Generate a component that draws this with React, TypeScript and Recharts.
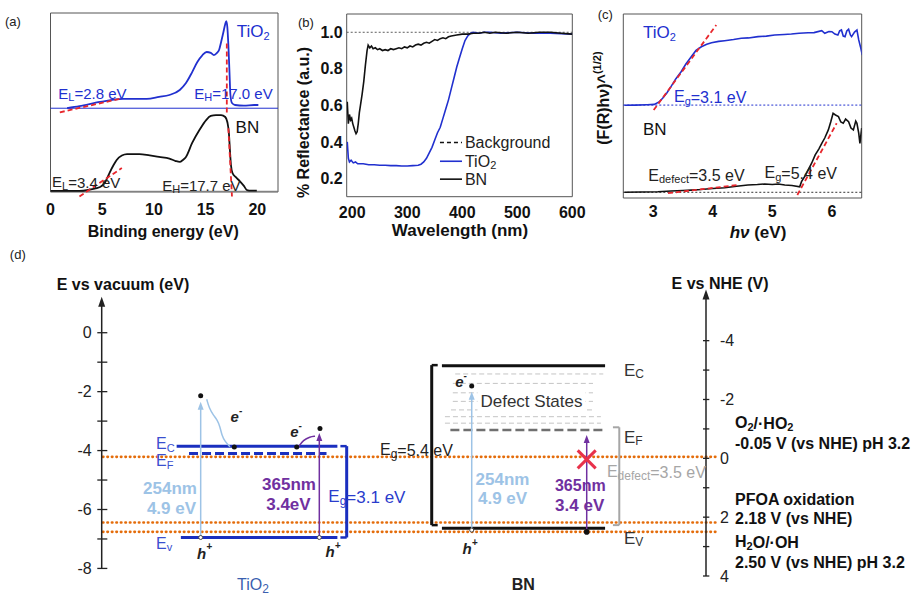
import React from "react";
import {
  LineChart,
  ComposedChart,
  Line,
  XAxis,
  YAxis,
  ReferenceLine,
  ReferenceDot,
  ReferenceArea,
} from "recharts";

const FONT = '"Liberation Sans", Arial, sans-serif';
const BLUE = "#2130cf";
const RED = "#e8262c";
const ORANGE = "#e46c0a";
const LIGHT_BLUE = "#9dc3e6";
const PURPLE = "#7030a0";

// ---------- (a) UPS spectra (binding energy, eV / intensity, a.u.) ----------
const upsTiO2BE = [1.6, 2.8, 4.8, 7.0, 9.3, 10.5, 11.5, 12.5, 13.1, 13.7, 14.2, 14.7, 15.1, 15.5, 15.8, 16.1, 16.3, 16.5, 16.7, 16.9, 17.0, 17.1, 17.2, 17.3, 17.4, 17.55, 17.85, 18.7, 19.7, 20.1];
const upsTiO2I = [46.9, 48.0, 50.3, 52.0, 52.0, 53.1, 54.2, 57.0, 60.9, 67.0, 72.6, 76.5, 78.2, 77.7, 76.5, 77.7, 79.3, 83.8, 88.8, 93.9, 95.5, 92.2, 82.1, 68.2, 54.2, 49.7, 48.6, 48.3, 48.6, 48.6];
const upsBNBE = [0, 2.8, 3.8, 4.8, 5.3, 5.7, 6.1, 6.4, 6.9, 7.4, 8.6, 9.6, 10.5, 11.5, 12.1, 12.5, 12.8, 13.1, 13.7, 14.4, 15.05, 15.5, 16.0, 16.5, 16.9, 17.1, 17.25, 17.35, 17.45, 17.6, 17.9, 18.3, 18.7, 19.0, 19.4, 19.95];
const upsBNI = [0.6, 0.6, 1.4, 2.8, 5.6, 10.6, 15.1, 17.9, 20.4, 21.2, 21.2, 20.4, 19.6, 18.7, 17.3, 16.8, 17.9, 19.6, 27.4, 34.6, 40.2, 42.5, 43.0, 43.0, 41.9, 39.1, 33.0, 23.5, 15.1, 10.6, 8.4, 6.1, 3.4, 1.1, 0.8, 0.8];
const upsTicks = [0, 5, 10, 15, 20];
const upsTiO2Base = 46.8;
// linear fits: [x1, y1, x2, y2]
const upsFits = [
  [0.9, 44.5, 6.9, 52.3],
  [17.05, 83.0, 17.05, 43.0],
  [2.8, -2.5, 6.9, 13.4],
  [17.2, 35.6, 17.55, -2.5],
];

// ---------- (b) diffuse reflectance ----------
const bnWl = [191, 193, 195, 197, 199, 201, 203, 205, 207, 209, 211, 213, 215, 218, 221, 224, 227, 229, 232, 235, 238, 242, 246, 250, 255, 260, 265, 270, 275, 280, 285, 290, 295, 300, 305, 310, 315, 320, 325, 330, 335, 340, 345, 350, 355, 360, 365, 370, 375, 380, 390, 400, 410, 420, 430, 440, 450, 460, 480, 500, 520, 540, 560, 580, 600];
const bnRefl = [0.62, 0.5, 0.55, 0.52, 0.53, 0.5, 0.48, 0.46, 0.445, 0.455, 0.5, 0.56, 0.6, 0.66, 0.73, 0.82, 0.9, 0.93, 0.915, 0.925, 0.91, 0.915, 0.905, 0.91, 0.9, 0.905, 0.9, 0.91, 0.905, 0.91, 0.915, 0.91, 0.92, 0.915, 0.925, 0.92, 0.93, 0.935, 0.93, 0.94, 0.945, 0.94, 0.95, 0.96, 0.955, 0.965, 0.97, 0.965, 0.975, 0.98, 0.985, 0.99, 0.99, 0.995, 0.995, 1.0, 0.995, 1.0, 0.995, 1.0, 0.995, 1.0, 1.0, 0.995, 0.99];
const tiWl = [191, 193, 195, 198, 202, 206, 210, 220, 230, 240, 250, 260, 270, 280, 290, 300, 310, 320, 325, 330, 335, 340, 345, 350, 355, 360, 365, 370, 375, 380, 385, 390, 395, 400, 405, 410, 415, 420, 430, 440, 450, 470, 500, 530, 560, 600];
const tiRefl = [0.4, 0.31, 0.29, 0.3, 0.285, 0.29, 0.28, 0.28, 0.275, 0.275, 0.272, 0.272, 0.27, 0.27, 0.268, 0.268, 0.27, 0.272, 0.278, 0.29, 0.31, 0.34, 0.37, 0.41, 0.45, 0.48, 0.53, 0.58, 0.63, 0.69, 0.75, 0.81, 0.86, 0.91, 0.955, 0.98, 0.995, 1.0, 0.995, 1.0, 1.0, 0.995, 1.0, 0.995, 0.995, 0.99];
const bgWl = [190, 600];
const bgRefl = [1.0, 1.0];
const reflXTicks = [200, 300, 400, 500, 600];
const reflYTicks = [0.2, 0.4, 0.6, 0.8, 1.0];

// ---------- (c) Tauc plots ----------
const taucTiE = [2.52, 2.7, 2.9, 3.02, 3.1, 3.16, 3.23, 3.3, 3.38, 3.47, 3.55, 3.64, 3.72, 3.81, 3.9, 3.98, 4.1, 4.2, 4.35, 4.48, 4.6, 4.76, 4.9, 5.04, 5.2, 5.32, 5.45, 5.6, 5.7, 5.83, 5.88, 5.95, 6.0, 6.05, 6.1, 6.13, 6.16, 6.19, 6.22, 6.25, 6.28, 6.31, 6.33, 6.38, 6.42, 6.45, 6.48, 6.51];
const taucTiF = [0.504, 0.505, 0.507, 0.509, 0.522, 0.542, 0.571, 0.605, 0.647, 0.686, 0.728, 0.768, 0.802, 0.822, 0.835, 0.844, 0.851, 0.855, 0.861, 0.868, 0.87, 0.877, 0.88, 0.886, 0.889, 0.891, 0.895, 0.898, 0.899, 0.909, 0.895, 0.905, 0.904, 0.891, 0.886, 0.908, 0.913, 0.88, 0.877, 0.908, 0.917, 0.886, 0.877, 0.902, 0.913, 0.859, 0.821, 0.777];
const taucBNE = [2.52, 2.8, 3.08, 3.3, 3.5, 3.64, 3.8, 4.0, 4.2, 4.4, 4.59, 4.75, 4.87, 5.0, 5.1, 5.21, 5.33, 5.46, 5.49, 5.55, 5.6, 5.66, 5.72, 5.78, 5.83, 5.88, 5.94, 5.98, 6.02, 6.06, 6.11, 6.15, 6.19, 6.23, 6.28, 6.32, 6.36, 6.4, 6.42, 6.45, 6.47, 6.5];
const taucBNF = [0.031, 0.033, 0.034, 0.038, 0.041, 0.043, 0.046, 0.052, 0.056, 0.064, 0.071, 0.073, 0.076, 0.073, 0.076, 0.071, 0.068, 0.061, 0.089, 0.12, 0.152, 0.189, 0.234, 0.266, 0.297, 0.326, 0.37, 0.413, 0.46, 0.451, 0.442, 0.413, 0.406, 0.429, 0.415, 0.38, 0.37, 0.418, 0.406, 0.353, 0.297, 0.38];
const taucTicks = [3, 4, 5, 6];
const taucTiBase = 0.505;
const taucBNBase = 0.031;
const taucFits = [
  [3.01, 0.478, 4.06, 0.94],
  [3.25, 0.026, 4.43, 0.071],
  [5.42, 0.016, 6.08, 0.406],
];

// ---------- (d) band diagram (energies in eV vs vacuum; redox in V vs NHE) ----------
const vacLabelTicks = [0, -2, -4, -6, -8];
const vacAllTicks = [0, -1, -2, -3, -4, -5, -6, -7, -8];
const nheLabelTicks = [-4, -2, 0, 2, 4];
const nheAllTicks = [-4, -3, -2, -1, 0, 1, 2, 3, 4];
const redoxNHE = [-0.05, 2.18, 2.5];
// TiO2: Ec, Ef, Ev
const tioLevels = [-3.85, -4.1, -6.95];
const tioLevelFrom = [12.4, 14.45, 13.1];
const tioLevelTo = [39.0, 37.2, 39.0];
// BN: Ec, Ef, Ev
const bnLevels = [-1.12, -3.3, -6.64];
const bnLevelFrom = [56.3, 57.7, 56.3];
const bnLevelTo = [83.3, 83.3, 83.3];
const defectLevels = [-1.4, -1.72, -2.04, -2.33, -2.62, -2.85, -3.07];
const defectFrom = [58.5, 58.1, 58.1, 58.1, 57.8, 56.8, 56.8];
const defectTo = [83.0, 81.3, 81.3, 81.3, 81.3, 82.6, 82.6];
// excitation arrows: [x, from E, to E, 365nm?]
const excitations = [
  [16.38, -6.95, -2.34, 0],
  [36.01, -6.95, -3.4, 1],
  [61.23, -6.7, -2.0, 0],
  [80.26, -6.76, -3.47, 1],
];
const relaxX = [17.38, 17.81, 18.48, 19.14, 19.58, 19.86, 20.41, 21.24];
const relaxY = [-2.26, -2.57, -2.8, -2.96, -3.19, -3.47, -3.7, -3.87];
const hopX = [32.53, 33.36, 34.47, 35.3];
const hopY = [-3.88, -3.64, -3.53, -3.51];

const pts = (xs: number[], ys: number[]) => xs.map((x, i) => ({ x, y: ys[i] }));

type NoteOpts = {
  size?: number;
  bold?: boolean;
  italic?: boolean;
  color?: string;
  anchor?: "start" | "middle" | "end";
  rotate?: number;
  bg?: number;
};

function note(key: string, x: number, y: number, content: React.ReactNode, o: NoteOpts = {}, yAxisId: string | number = 0) {
  const shape = (p: any) => {
    const t = (
      <text
        x={p.cx}
        y={p.cy}
        fontFamily={FONT}
        fontSize={o.size ?? 15}
        fontWeight={o.bold ? 700 : 400}
        fontStyle={o.italic ? "italic" : "normal"}
        fill={o.color ?? "#222"}
        textAnchor={o.anchor ?? "start"}
        dominantBaseline="central"
        transform={o.rotate ? `rotate(${o.rotate} ${p.cx} ${p.cy})` : undefined}
      >
        {content}
      </text>
    );
    if (!o.bg) return t;
    return (
      <g>
        <rect x={p.cx - o.bg / 2} y={p.cy - 10} width={o.bg} height={20} fill="#fff" />
        {t}
      </g>
    );
  };
  return <ReferenceDot key={key} x={x} y={y} r={0} yAxisId={yAxisId} ifOverflow="visible" shape={shape} />;
}

function seg(key: string, x1: number, y1: number, x2: number, y2: number, stroke: string, width: number, dash?: string, yAxisId: string | number = 0, cap?: "round" | "butt") {
  return (
    <ReferenceLine
      key={key}
      yAxisId={yAxisId}
      segment={[{ x: x1, y: y1 }, { x: x2, y: y2 }]}
      stroke={stroke}
      strokeWidth={width}
      strokeDasharray={dash}
      strokeLinecap={cap}
      ifOverflow="visible"
    />
  );
}

function dot(key: string, x: number, y: number, r: number, fill: string, stroke = "none", yAxisId: string | number = "vac") {
  return <ReferenceDot key={key} x={x} y={y} r={r} fill={fill} stroke={stroke} strokeWidth={1} yAxisId={yAxisId} ifOverflow="visible" />;
}

function arrowHead(key: string, x: number, y: number, w: number, h: number, color: string, yAxisId: string | number = "vac") {
  const shape = (p: any) => (
    <path d={`M${p.cx},${p.cy} L${p.cx - w / 2},${p.cy + h} L${p.cx + w / 2},${p.cy + h} Z`} fill={color} />
  );
  return <ReferenceDot key={key} x={x} y={y} r={0} yAxisId={yAxisId} ifOverflow="visible" shape={shape} />;
}

const sb = (s: string, size = 11) => (
  <tspan dy={4} fontSize={size}>
    {s}
  </tspan>
);
const back = (s: string) => <tspan dy={-4}>{s}</tspan>;
const sup = (s: string, size = 10) => (
  <tspan dy={-7} fontSize={size}>
    {s}
  </tspan>
);

const tickBold = { fontSize: 16, fontWeight: 700, fill: "#111", fontFamily: FONT };

function PanelA() {
  return (
    <div style={{ position: "absolute", left: 0, top: 0 }}>
      <LineChart width={290} height={250} margin={{ top: 13, right: 12, bottom: 0, left: 50.5 }}>
        <XAxis type="number" dataKey="x" domain={[0, 22]} ticks={upsTicks} allowDataOverflow axisLine={false} tickLine={false} tickSize={0} tickMargin={12} height={58} tick={tickBold} />
        <YAxis hide domain={[0, 100]} allowDataOverflow />
        <ReferenceArea x1={0} x2={22} y1={0} y2={100} fill="none" stroke="#555" strokeWidth={1} ifOverflow="visible" />
        <ReferenceLine y={upsTiO2Base} stroke={BLUE} strokeWidth={1} />
        <ReferenceLine y={0.4} stroke="#777" strokeWidth={1} />
        <Line data={pts(upsTiO2BE, upsTiO2I)} dataKey="y" type="monotone" stroke={BLUE} strokeWidth={1.8} dot={false} isAnimationActive={false} />
        <Line data={pts(upsBNBE, upsBNI)} dataKey="y" type="monotone" stroke="#111" strokeWidth={1.8} dot={false} isAnimationActive={false} />
        {upsFits.map((f, i) => seg(`fa${i}`, f[0], f[1], f[2], f[3], RED, 1.8, "5 3"))}
        {note("ta", 18.0, 89.4, <>TiO{sb("2")}</>, { size: 17, color: BLUE })}
        {note("el1", 0.75, 55.3, <>E{sb("L")}{back("=2.8 eV")}</>, { size: 15, color: BLUE })}
        {note("eh1", 13.9, 55.3, <>E{sb("H")}{back("=17.0 eV")}</>, { size: 15, color: BLUE })}
        {note("bn", 17.9, 36.3, "BN", { size: 17, color: "#111" })}
        {note("el2", 0.15, 5.8, <>E{sb("L")}{back("=3.4 eV")}</>, { size: 15, color: "#222" })}
        {note("eh2", 10.8, 3.9, <>E{sb("H")}{back("=17.7 eV")}</>, { size: 15, color: "#222" })}
        {note("lab", -4.4, 95, "(a)", { size: 13 })}
        {note("xt", 10.9, -22.3, "Binding energy (eV)", { size: 16, bold: true, anchor: "middle", color: "#111" })}
      </LineChart>
    </div>
  );
}

function PanelB() {
  return (
    <div style={{ position: "absolute", left: 280, top: 0 }}>
      <LineChart width={310} height={250} margin={{ top: 14, right: 17.7, bottom: 0, left: 0 }}>
        <XAxis type="number" dataKey="x" domain={[190, 600]} ticks={reflXTicks} allowDataOverflow axisLine={false} tickLine={false} tickSize={0} tickMargin={10} height={53.3} tick={tickBold} />
        <YAxis width={66.7} domain={[0.1, 1.1]} ticks={reflYTicks} allowDataOverflow axisLine={false} tickLine={false} tickSize={0} tickMargin={4} tick={tickBold} tickFormatter={(v: number) => v.toFixed(1)} />
        <ReferenceArea x1={190} x2={600} y1={0.1} y2={1.1} fill="none" stroke="#555" strokeWidth={1} ifOverflow="visible" />
        <Line data={pts(bgWl, bgRefl)} dataKey="y" type="linear" stroke="#333" strokeWidth={0.8} strokeDasharray="2 2" dot={false} isAnimationActive={false} />
        <Line data={pts(tiWl, tiRefl)} dataKey="y" type="linear" stroke={BLUE} strokeWidth={1.6} dot={false} isAnimationActive={false} />
        <Line data={pts(bnWl, bnRefl)} dataKey="y" type="linear" stroke="#111" strokeWidth={1.6} dot={false} isAnimationActive={false} />
        {seg("lg1", 359.5, 0.397, 399.5, 0.397, "#111", 1.4, "4 3")}
        {seg("lg2", 359.5, 0.294, 399.5, 0.294, BLUE, 1.6)}
        {seg("lg3", 359.5, 0.196, 399.5, 0.196, "#111", 1.6)}
        {note("lt1", 404.9, 0.397, "Background", { size: 16 })}
        {note("lt2", 404.9, 0.294, <>TiO{sb("2")}</>, { size: 16 })}
        {note("lt3", 404.9, 0.196, "BN", { size: 16 })}
        {note("lab", 101.3, 1.056, "(b)", { size: 13 })}
        {note("xt", 395.8, -0.087, "Wavelength (nm)", { size: 17, bold: true, anchor: "middle", color: "#111" })}
        {note("yt", 112.2, 0.506, "% Reflectance (a.u.)", { size: 16, bold: true, anchor: "middle", rotate: -90, color: "#111" })}
      </LineChart>
    </div>
  );
}

function PanelC() {
  return (
    <div style={{ position: "absolute", left: 590, top: 0 }}>
      <LineChart width={331} height={250} margin={{ top: 14, right: 59.3, bottom: 0, left: 33.3 }}>
        <XAxis type="number" dataKey="x" domain={[2.5, 6.5]} ticks={taucTicks} allowDataOverflow axisLine={false} tickLine={false} tickSize={0} tickMargin={8} height={52} tick={tickBold} />
        <YAxis hide domain={[0, 1]} allowDataOverflow />
        <ReferenceArea x1={2.5} x2={6.5} y1={0} y2={1} fill="none" stroke="#555" strokeWidth={1} ifOverflow="visible" />
        <ReferenceLine y={taucTiBase} stroke={BLUE} strokeWidth={1} strokeDasharray="2 2" />
        <ReferenceLine y={taucBNBase} stroke="#333" strokeWidth={1} strokeDasharray="2 2" />
        <Line data={pts(taucTiE, taucTiF)} dataKey="y" type="linear" stroke={BLUE} strokeWidth={1.6} dot={false} isAnimationActive={false} />
        <Line data={pts(taucBNE, taucBNF)} dataKey="y" type="linear" stroke="#111" strokeWidth={1.6} dot={false} isAnimationActive={false} />
        {taucFits.map((f, i) => seg(`fc${i}`, f[0], f[1], f[2], f[3], RED, 1.8, "5 3"))}
        {note("ti", 2.83, 0.897, <>TiO{sb("2")}</>, { size: 17, color: BLUE })}
        {note("eg1", 3.35, 0.551, <>E{sb("g")}{back("=3.1 eV")}</>, { size: 16, color: BLUE })}
        {note("bn", 2.83, 0.37, "BN", { size: 17, color: "#111" })}
        {note("ed", 2.92, 0.125, <>E{sb("defect")}{back("=3.5 eV")}</>, { size: 16, color: "#222" })}
        {note("eg2", 4.87, 0.136, <>E{sb("g")}{back("=5.4 eV")}</>, { size: 16, color: "#222" })}
        {note("lab", 2.07, 0.995, "(c)", { size: 13 })}
        {note("xt", 4.76, -0.185, <><tspan fontStyle="italic">hν</tspan> (eV)</>, { size: 17, bold: true, anchor: "middle", color: "#111" })}
        {note("yt", 2.16, 0.543, <>(F(R)hν)^<tspan dy={-6} fontSize={11}>(1/2)</tspan></>, { size: 16, bold: true, anchor: "middle", rotate: -90, color: "#111" })}
      </LineChart>
    </div>
  );
}

function PanelD() {
  const V = "vac";
  const N = "nhe";
  const tickReg = { fontSize: 16, fill: "#222", fontFamily: FONT };
  const tioNames = ["C", "F", "v"];
  const tioNameY = [-3.76, -4.34, -7.14];
  const bnNames = ["C", "F", "V"];
  const bnNameY = [-1.27, -3.54, -6.97];
  return (
    <div style={{ position: "absolute", left: 0, top: 240 }}>
      <ComposedChart width={921} height={356} margin={{ top: 53, right: 0, bottom: 20, left: 0 }}>
        <XAxis type="number" dataKey="x" domain={[0, 100]} hide allowDataOverflow />
        <YAxis yAxisId={V} orientation="left" width={101.7} domain={[-8.257, 1.348]} allowDataOverflow ticks={vacLabelTicks} axisLine={false} tickLine={false} tickSize={0} tickMargin={10} tick={tickReg} />
        <YAxis yAxisId={N} orientation="right" width={215} reversed domain={[-5.62, 4.0]} allowDataOverflow ticks={nheLabelTicks} axisLine={false} tickLine={false} tickSize={0} tickMargin={14} tick={tickReg} />

        {/* redox potentials */}
        {redoxNHE.map((v, i) => seg(`ox${i}`, 0.2, v, 101.8, v, ORANGE, 2.6, "0.5 4", N, "round"))}

        {/* axes */}
        {seg("axv", 0, -8, 0, 1.1, "#222", 1.5, undefined, V)}
        {arrowHead("axva", 0, 1.22, 7, 10, "#222", V)}
        {vacAllTicks.map((t) => seg(`tv${t}`, -0.73, t, 0.93, t, "#222", 1.3, undefined, V))}
        {seg("axn", 100, 4, 100, -5.6, "#222", 1.5, undefined, N)}
        {arrowHead("axna", 100, -5.74, 7, 10, "#222", N)}
        {nheAllTicks.map((t) => seg(`tn${t}`, 99.5, t, 100.55, t, "#222", 1.3, undefined, N))}

        {/* TiO2 band edges */}
        {tioLevels.map((e, i) => seg(`tl${i}`, tioLevelFrom[i], e, tioLevelTo[i], e, "#1a2fbf", 3, i === 1 ? "9 4" : undefined, V))}
        {seg("tbr", 40.54, tioLevels[0], 40.54, tioLevels[2], "#1a2fbf", 3, undefined, V)}
        {seg("tbr1", 39.5, tioLevels[0], 40.54, tioLevels[0], "#1a2fbf", 2.5, undefined, V)}
        {seg("tbr2", 39.5, tioLevels[2], 40.54, tioLevels[2], "#1a2fbf", 2.5, undefined, V)}

        {/* BN band edges and defect states */}
        {defectLevels.map((e, i) => seg(`df${i}`, defectFrom[i], e, defectTo[i], e, "#c4c4c4", 1, "5 3", V))}
        {seg("bl0", bnLevelFrom[0], bnLevels[0], bnLevelTo[0], bnLevels[0], "#111", 3, undefined, V)}
        {seg("bl1", bnLevelFrom[1], bnLevels[1], bnLevelTo[1], bnLevels[1], "#707070", 2.6, "9 4", V)}
        {seg("bl2", bnLevelFrom[2], bnLevels[2], bnLevelTo[2], bnLevels[2], "#111", 3, undefined, V)}
        {seg("bbr", 54.61, -1.1, 54.61, -6.53, "#111", 3, undefined, V)}
        {seg("bbr1", 54.61, -1.1, 55.6, -1.1, "#111", 2.5, undefined, V)}
        {seg("bbr2", 54.61, -6.53, 55.6, -6.53, "#111", 2.5, undefined, V)}
        {seg("gbr", 85.65, -3.21, 85.65, -6.53, "#a6a6a6", 2, undefined, V)}
        {seg("gbr1", 84.6, -3.21, 85.65, -3.21, "#a6a6a6", 2, undefined, V)}
        {seg("gbr2", 84.6, -6.53, 85.65, -6.53, "#a6a6a6", 2, undefined, V)}

        {/* excitation arrows */}
        {excitations.map((a, i) => seg(`ex${i}`, a[0], a[1], a[0], a[2] - 0.2, a[3] ? PURPLE : LIGHT_BLUE, 1.5, undefined, V))}
        {excitations.map((a, i) => arrowHead(`exa${i}`, a[0], a[2], 6, 8, a[3] ? PURPLE : LIGHT_BLUE, V))}
        <Line yAxisId={V} data={pts(relaxX, relaxY)} dataKey="y" type="basis" stroke={LIGHT_BLUE} strokeWidth={1.5} dot={false} isAnimationActive={false} />
        <Line yAxisId={V} data={pts(hopX, hopY)} dataKey="y" type="basis" stroke={PURPLE} strokeWidth={1.5} dot={false} isAnimationActive={false} />

        {/* carriers */}
        {dot("c1", 16.38, -2.14, 2.5, "#111")}
        {dot("c2", 21.94, -3.88, 2.5, "#111")}
        {dot("c3", 32.27, -3.88, 2.5, "#111")}
        {dot("c4", 36.12, -3.25, 2.5, "#111")}
        {dot("c5", 61.23, -1.81, 2.5, "#111")}
        {dot("h1", 16.38, -6.95, 2, "#fff", "#444")}
        {dot("h2", 36.01, -6.95, 2, "#fff", "#444")}
        {dot("h3", 61.23, -6.7, 2, "#fff", "#444")}
        {dot("h4", 80.26, -6.76, 2.8, "#111")}

        {/* TiO2 labels */}
        {tioNames.map((n, i) => note(`tn${i}`, 8.99, tioNameY[i], <>E{sb(n, 11)}</>, { size: 16, color: "#3a4fcf" }, V))}
        {note("t254", 11.3, -5.28, "254nm", { size: 17, bold: true, anchor: "middle", color: LIGHT_BLUE }, V)}
        {note("t49", 11.55, -5.95, "4.9 eV", { size: 17, bold: true, anchor: "middle", color: LIGHT_BLUE }, V)}
        {note("t365", 31.0, -5.14, "365nm", { size: 17, bold: true, anchor: "middle", color: PURPLE }, V)}
        {note("t34", 30.9, -5.83, "3.4eV", { size: 17, bold: true, anchor: "middle", color: PURPLE }, V)}
        {note("teg", 37.5, -5.57, <>E{sb("g", 12)}{back("=3.1 eV")}</>, { size: 17, color: "#2a3ccc" }, V)}
        {note("te1", 22.3, -2.85, <>e{sup("-")}</>, { size: 15, bold: true, italic: true, anchor: "middle" }, V)}
        {note("te2", 32.16, -3.36, <>e{sup("-")}</>, { size: 15, bold: true, italic: true, anchor: "middle" }, V)}
        {note("th1", 17.01, -7.49, <>h{sup("+")}</>, { size: 15, bold: true, italic: true, anchor: "middle" }, V)}
        {note("th2", 38.28, -7.44, <>h{sup("+")}</>, { size: 15, bold: true, italic: true, anchor: "middle" }, V)}
        {note("tio", 25.04, -8.56, <>TiO{sb("2", 12)}</>, { size: 16, anchor: "middle", color: "#3a5fb0" }, V)}

        {/* BN labels */}
        {bnNames.map((n, i) => note(`bn${i}`, 86.43, bnNameY[i], <>E{sb(n, 12)}</>, { size: 17, color: "#333" }, V))}
        {note("beg", 46.05, -3.98, <>E{sb("g", 12)}{back("=5.4 eV")}</>, { size: 16, color: "#222" }, V)}
        {note("bds", 71.12, -2.34, "Defect States", { size: 17, anchor: "middle", color: "#333", bg: 108 }, V)}
        {note("bed", 83.6, -4.72, <>E{sb("defect", 12)}{back("=3.5 eV")}</>, { size: 16, color: "#a6a6a6" }, V)}
        {note("b254", 66.33, -4.97, "254nm", { size: 17, bold: true, anchor: "middle", color: LIGHT_BLUE }, V)}
        {note("b49", 66.33, -5.61, "4.9 eV", { size: 17, bold: true, anchor: "middle", color: LIGHT_BLUE }, V)}
        {note("b365", 79.2, -5.17, "365nm", { size: 16, bold: true, anchor: "middle", color: PURPLE }, V)}
        {note("b34", 79.1, -5.85, "3.4 eV", { size: 17, bold: true, anchor: "middle", color: PURPLE }, V)}
        {note("be", 59.46, -1.66, <>e{sup("-")}</>, { size: 15, bold: true, italic: true, anchor: "middle" }, V)}
        {note("bh", 60.95, -7.34, <>h{sup("+")}</>, { size: 15, bold: true, italic: true, anchor: "middle" }, V)}
        {note("bnl", 69.77, -8.55, "BN", { size: 16, bold: true, anchor: "middle" }, V)}
        <ReferenceDot
          yAxisId={V}
          x={80.26}
          y={-4.3}
          r={0}
          ifOverflow="visible"
          shape={(p: any) => (
            <g stroke="#e8314a" strokeWidth={3}>
              <line x1={p.cx - 9} y1={p.cy - 9} x2={p.cx + 9} y2={p.cy + 9} />
              <line x1={p.cx - 9} y1={p.cy + 9} x2={p.cx + 9} y2={p.cy - 9} />
            </g>
          )}
        />

        {/* redox labels */}
        {note("r1", 104.8, -1.21, <>O{sb("2", 11)}{back("/·HO")}{sb("2", 11)}</>, { size: 16, bold: true, color: "#111" }, N)}
        {note("r2", 104.8, -0.49, "-0.05 V (vs NHE) pH 3.2", { size: 16, bold: true, color: "#111" }, N)}
        {note("r3", 104.8, 1.39, "PFOA oxidation", { size: 16, bold: true, color: "#111" }, N)}
        {note("r4", 104.8, 2.04, "2.18 V (vs NHE)", { size: 16, bold: true, color: "#111" }, N)}
        {note("r5", 104.8, 2.84, <>H{sb("2", 11)}{back("O/·OH")}</>, { size: 16, bold: true, color: "#111" }, N)}
        {note("r6", 104.8, 3.55, "2.50 V (vs NHE) pH 3.2", { size: 16, bold: true, color: "#111" }, N)}

        {/* titles */}
        {note("tv", -7.44, 1.64, "E vs vacuum (eV)", { size: 16, bold: true, color: "#111" }, V)}
        {note("tnh", 94.3, -5.94, "E vs NHE (V)", { size: 16, bold: true, color: "#111" }, N)}
        {note("lab", -15.2, 2.64, "(d)", { size: 13 }, V)}
      </ComposedChart>
    </div>
  );
}

export default function App() {
  return (
    <div style={{ position: "absolute", left: 0, top: 0, width: 921, height: 596, background: "#fff", fontFamily: FONT, overflow: "hidden" }}>
      <PanelA />
      <PanelB />
      <PanelC />
      <PanelD />
    </div>
  );
}
